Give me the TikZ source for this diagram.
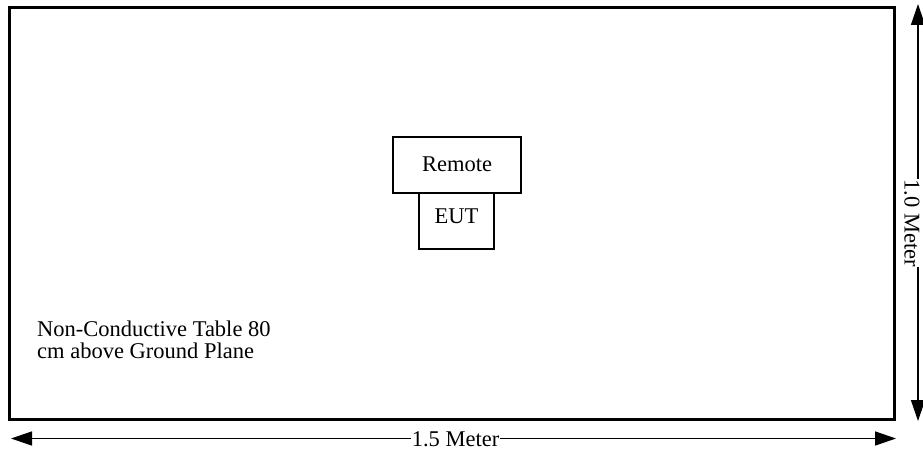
\documentclass[tikz,border=0pt]{standalone}
\usepackage{fontspec}
\setmainfont{Liberation Serif}
\usetikzlibrary{arrows.meta}
\begin{document}
\begin{tikzpicture}[x=1pt,y=-1pt,
  txt/.style={font=\fontsize{22.5}{22}\selectfont, inner sep=0pt},
  devbox/.style={draw, line width=1.3pt},
  dimarrow/.style={line width=1.5pt, {Triangle[length=21pt,width=14pt]}-{Triangle[length=21pt,width=14pt]}},
  dimlabel/.style={txt, fill=white, inner sep=1pt}]
\useasboundingbox (0,0) rectangle (923,452);
% table outline
\draw[line width=3pt] (9.5,7.5) rectangle (894.5,419.5);
% boxes
\draw[devbox] (393,137) rectangle (521,193);
\draw[devbox] (419,193) rectangle (494,249);
\node[txt, anchor=base] (remote) at (457,171) {Remote};
\node[txt, anchor=base] (eut) at (456.5,223) {EUT};
% table label
\node[txt, anchor=base west, align=left] (label) at (37,358) {Non-Conductive Table 80\\cm above Ground Plane};
% dimension arrows
\coordinate (hl) at (11,438.5);
\coordinate (hr) at (896,438.5);
\draw[dimarrow] (hl) -- (hr);
\node[dimlabel] (hlab) at (455.5,439.5) {1.5 Meter};
\coordinate (vt) at (918,4);
\coordinate (vb) at (918,421);
\draw[dimarrow] (vt) -- (vb);
\node[dimlabel, rotate=-90, inner sep=0.5pt] (vlab) at (912,223) {1.0 Meter};
\end{tikzpicture}
\end{document}
